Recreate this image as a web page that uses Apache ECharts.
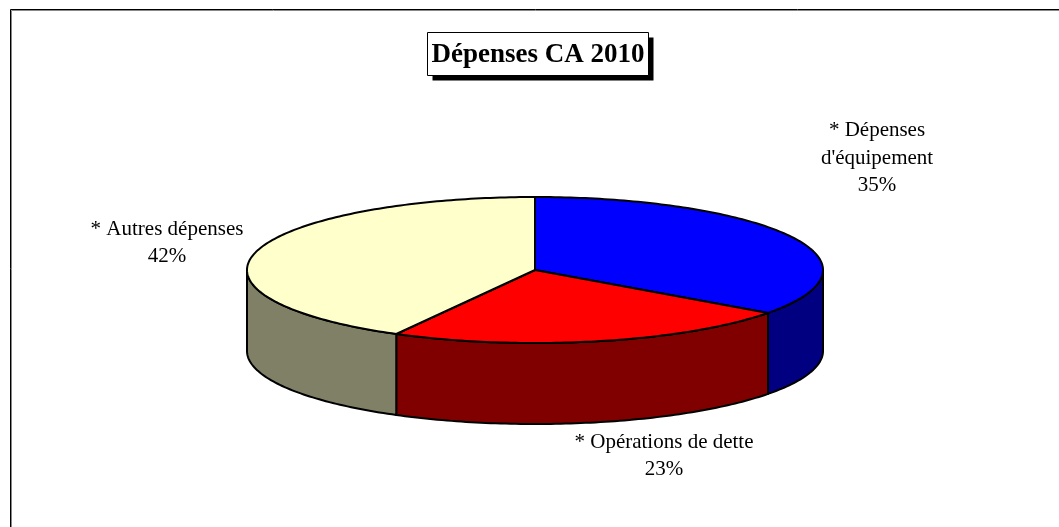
<!DOCTYPE html>
<html><head><meta charset="utf-8">
<script src="https://cdn.jsdelivr.net/npm/echarts@6.0.0/dist/echarts.min.js"></script>
<style>html,body{margin:0;padding:0;background:#fff}#c{width:1059px;height:527px}</style>
</head><body><div id="c"></div>
<script>
// ---- data ----
const titleText = 'Dépenses CA 2010';
const categories = ["Dépenses\nd'équipement", "Opérations de dette", "Autres dépenses"];
const values = [35, 23, 42];

// ---- styles / layout ----
const topColors = ['#0000FF', '#FF0000', '#FFFFCC'];
const sideColors = ['#000080', '#800000', '#808066'];
const pie = { cx: 535, cy: 270, rx: 288, ry: 73, depth: 81 };
const labelPos = [[877, 158], [664, 456], [167, 243]];
const titleBox = { x: 427.5, y: 32.5, w: 221, h: 43, shadow: 5 };

const total = values.reduce((a, b) => a + b, 0);

function P(deg, dy) {
  const r = deg * Math.PI / 180;
  return [pie.cx + pie.rx * Math.sin(r), pie.cy - pie.ry * Math.cos(r) + (dy || 0)];
}
function arc(a, b, dy) {
  const n = Math.max(2, Math.ceil(Math.abs(b - a)));
  const pts = [];
  for (let j = 0; j <= n; j++) pts.push(P(a + (b - a) * j / n, dy));
  return pts;
}

function renderItem(params, api) {
  const i = params.dataIndex;
  const v = api.value(0);
  let start = 0;
  for (let k = 0; k < i; k++) start += values[k];
  const t0 = start / total * 360;
  const t1 = (start + v) / total * 360;
  const children = [];
  const a = Math.max(t0, 90), b = Math.min(t1, 270);
  if (b > a) {
    children.push({
      type: 'polygon', z2: 1,
      shape: { points: arc(a, b, 0).concat(arc(b, a, pie.depth)) },
      style: { fill: sideColors[i], stroke: '#000', lineWidth: 2, lineJoin: 'round' }
    });
  }
  children.push({
    type: 'polygon', z2: 2,
    shape: { points: [[pie.cx, pie.cy]].concat(arc(t0, t1, 0)) },
    style: { fill: topColors[i], stroke: '#000', lineWidth: 2, lineJoin: 'round' }
  });
  const pct = Math.round(v / total * 100);
  children.push({
    type: 'text', z2: 3,
    style: {
      text: '* ' + categories[i] + '\n' + pct + '%',
      x: labelPos[i][0], y: labelPos[i][1],
      align: 'center', verticalAlign: 'middle',
      fontFamily: 'Liberation Serif', fontSize: 21, lineHeight: 27.5,
      fill: '#000'
    }
  });
  return { type: 'group', children: children };
}

const chart = echarts.init(document.getElementById('c'), null, { renderer: 'canvas' });
chart.setOption({
  animation: false,
  backgroundColor: '#fff',
  graphic: [
    { type: 'rect', silent: true, shape: { x: 10.5, y: 9.5, width: 1200, height: 700 },
      style: { fill: 'none', stroke: '#000', lineWidth: 1 } },
    { type: 'rect', silent: true, shape: { x: 11.5, y: 10.5, width: 1200, height: 700 },
      style: { fill: 'none', stroke: '#888', lineWidth: 1 } },
    { type: 'rect', silent: true, z: 10,
      shape: { x: titleBox.x + titleBox.shadow, y: titleBox.y + titleBox.shadow, width: titleBox.w, height: titleBox.h },
      style: { fill: '#000' } },
    { type: 'rect', silent: true, z: 11,
      shape: { x: titleBox.x, y: titleBox.y, width: titleBox.w, height: titleBox.h },
      style: { fill: '#fff', stroke: '#000', lineWidth: 1 } },
    { type: 'text', silent: true, z: 12,
      style: { text: titleText, x: titleBox.x + titleBox.w / 2, y: titleBox.y + titleBox.h / 2 + 1,
        align: 'center', verticalAlign: 'middle',
        fontFamily: 'Liberation Serif', fontWeight: 'bold', fontSize: 27, fill: '#000' } }
  ],
  series: [{
    type: 'custom',
    coordinateSystem: 'none',
    renderItem: renderItem,
    data: values.map((v, i) => ({ name: categories[i], value: [v] }))
  }]
});
</script>
</body></html>
